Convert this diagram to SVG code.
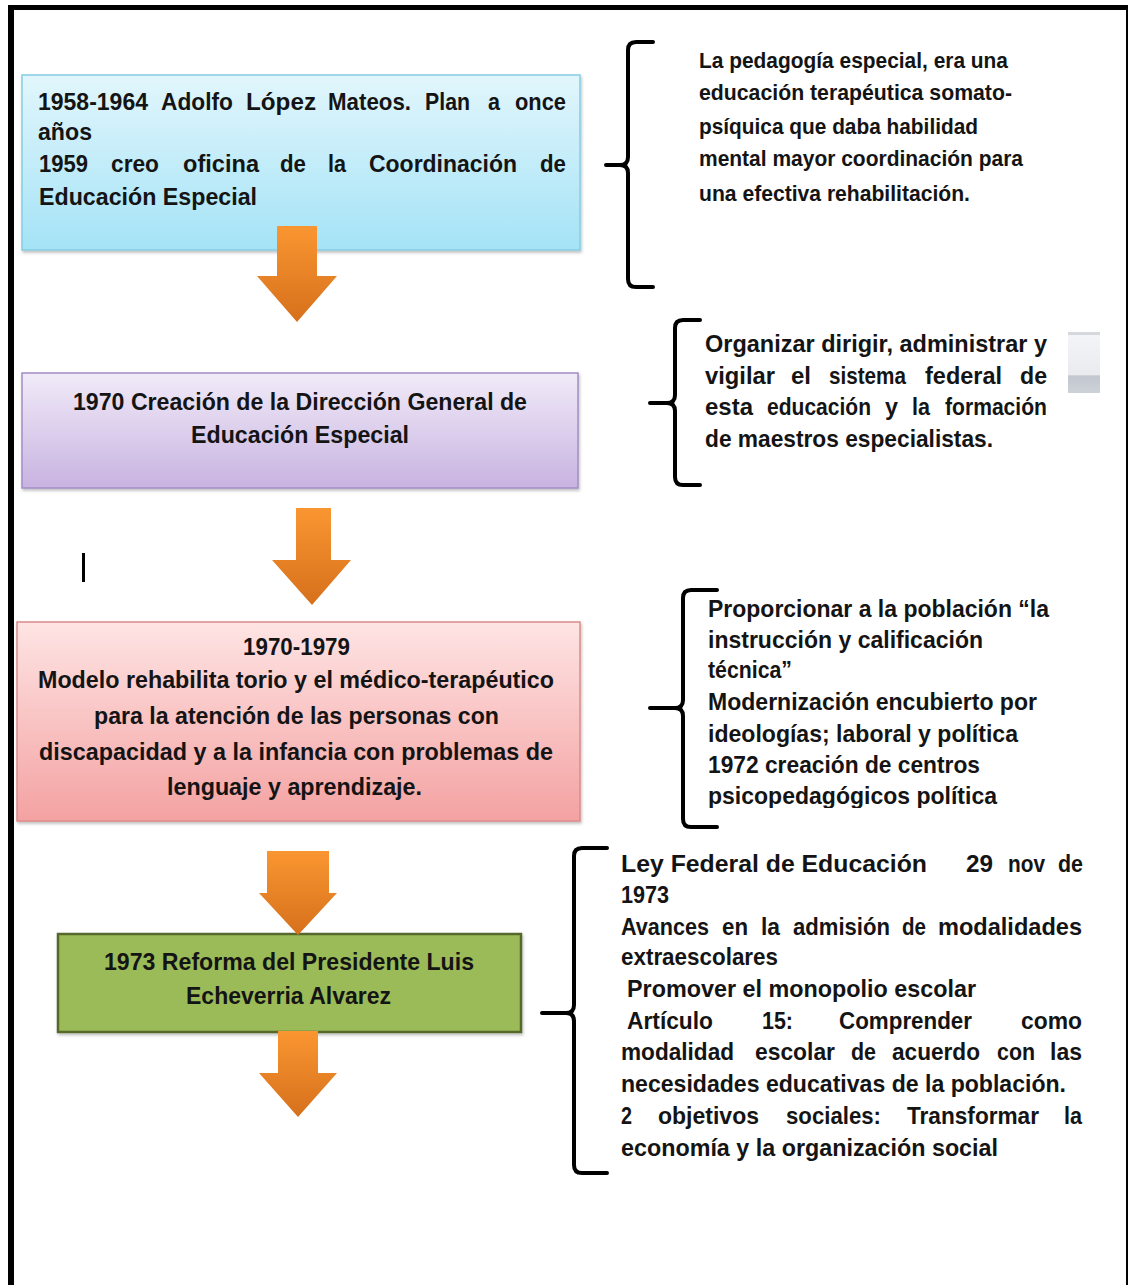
<svg xmlns="http://www.w3.org/2000/svg" width="1128" height="1285" viewBox="0 0 1128 1285">
<defs>
  <linearGradient id="gBlue" x1="0" y1="0" x2="0" y2="1"><stop offset="0" stop-color="#e2f6fc"/><stop offset="1" stop-color="#a4e3f6"/></linearGradient>
  <linearGradient id="gPurple" x1="0" y1="0" x2="0" y2="1"><stop offset="0" stop-color="#f1ebf8"/><stop offset="1" stop-color="#c8b3e1"/></linearGradient>
  <linearGradient id="gPink" x1="0" y1="0" x2="0" y2="1"><stop offset="0" stop-color="#fee4e4"/><stop offset="1" stop-color="#f4a2a2"/></linearGradient>
  <linearGradient id="gOrange" x1="0" y1="0" x2="0" y2="1"><stop offset="0" stop-color="#fa9631"/><stop offset="1" stop-color="#d6701c"/></linearGradient>
  <linearGradient id="gGray" x1="0" y1="0" x2="0" y2="1"><stop offset="0" stop-color="#f4f5f8"/><stop offset="0.7" stop-color="#e9ebef"/><stop offset="0.72" stop-color="#c3c7cf"/><stop offset="1" stop-color="#cdd1d8"/></linearGradient>
  <filter id="sh" x="-5%" y="-10%" width="110%" height="125%"><feDropShadow dx="1" dy="2" stdDeviation="1.5" flood-color="#000" flood-opacity="0.25"/></filter>
  <clipPath id="clip3"><rect x="690" y="588" width="400" height="220"/></clipPath>
</defs>
<style>
  .t{font-family:"Liberation Sans",Arial,"DejaVu Sans",sans-serif;font-weight:bold;fill:#141414;font-size:24px}
  .s22{font-size:22px}
  .br{fill:none;stroke:#000;stroke-width:4;stroke-linecap:round;stroke-linejoin:round}
  .arrow{fill:url(#gOrange)}
  .frame{fill:#000}
</style>
<rect x="0" y="0" width="1128" height="1285" fill="#fff"/>

<g id="frame">
  <rect class="frame" x="8" y="5" width="1120" height="5"/>
  <rect class="frame" x="8" y="5" width="6" height="1280"/>
  <rect class="frame" x="1126" y="5" width="2" height="1280"/>
</g>

<g id="node1">
  <rect x="22" y="75" width="558" height="175" fill="url(#gBlue)" stroke="#86cde3" stroke-width="1.5" filter="url(#sh)"/>
  <text class="t" y="110"><tspan x="38" textLength="110" lengthAdjust="spacingAndGlyphs">1958-1964</tspan> <tspan x="161" textLength="72" lengthAdjust="spacingAndGlyphs">Adolfo</tspan> <tspan x="246" textLength="70" lengthAdjust="spacingAndGlyphs">López</tspan> <tspan x="328" textLength="83" lengthAdjust="spacingAndGlyphs">Mateos.</tspan> <tspan x="425" textLength="45" lengthAdjust="spacingAndGlyphs">Plan</tspan> <tspan x="488" textLength="12" lengthAdjust="spacingAndGlyphs">a</tspan> <tspan x="515" textLength="51" lengthAdjust="spacingAndGlyphs">once</tspan></text>
  <text class="t" x="38" y="140" textLength="54" lengthAdjust="spacingAndGlyphs">años</text>
  <text class="t" y="172"><tspan x="39" textLength="49" lengthAdjust="spacingAndGlyphs">1959</tspan> <tspan x="111" textLength="48" lengthAdjust="spacingAndGlyphs">creo</tspan> <tspan x="183" textLength="76" lengthAdjust="spacingAndGlyphs">oficina</tspan> <tspan x="280" textLength="26" lengthAdjust="spacingAndGlyphs">de</tspan> <tspan x="328" textLength="18" lengthAdjust="spacingAndGlyphs">la</tspan> <tspan x="369" textLength="148" lengthAdjust="spacingAndGlyphs">Coordinación</tspan> <tspan x="540" textLength="26" lengthAdjust="spacingAndGlyphs">de</tspan></text>
  <text class="t" x="39" y="205" textLength="218" lengthAdjust="spacingAndGlyphs">Educación Especial</text>
</g>

<g id="note1">
  <text class="t s22" x="699" y="68" textLength="309" lengthAdjust="spacingAndGlyphs">La pedagogía especial, era una</text>
  <text class="t s22" x="699" y="100" textLength="313" lengthAdjust="spacingAndGlyphs">educación terapéutica somato-</text>
  <text class="t s22" x="699" y="134" textLength="279" lengthAdjust="spacingAndGlyphs">psíquica que daba habilidad</text>
  <text class="t s22" x="699" y="166" textLength="324" lengthAdjust="spacingAndGlyphs">mental mayor coordinación para</text>
  <text class="t s22" x="699" y="201" textLength="271" lengthAdjust="spacingAndGlyphs">una efectiva rehabilitación.</text>
</g>

<g id="node2">
  <rect x="22" y="373" width="556" height="115" fill="url(#gPurple)" stroke="#a28dc6" stroke-width="1.5" filter="url(#sh)"/>
  <text class="t" x="73" y="410" textLength="454" lengthAdjust="spacingAndGlyphs">1970 Creación de la Dirección General de</text>
  <text class="t" x="191" y="443" textLength="218" lengthAdjust="spacingAndGlyphs">Educación Especial</text>
</g>

<g id="note2">
  <text class="t" x="705" y="352" textLength="342" lengthAdjust="spacingAndGlyphs">Organizar dirigir, administrar y</text>
  <text class="t" y="384"><tspan x="705" textLength="70" lengthAdjust="spacingAndGlyphs">vigilar</tspan> <tspan x="791" textLength="20" lengthAdjust="spacingAndGlyphs">el</tspan> <tspan x="829" textLength="77" lengthAdjust="spacingAndGlyphs">sistema</tspan> <tspan x="925" textLength="77" lengthAdjust="spacingAndGlyphs">federal</tspan> <tspan x="1020" textLength="27" lengthAdjust="spacingAndGlyphs">de</tspan></text>
  <text class="t" y="415"><tspan x="705" textLength="48" lengthAdjust="spacingAndGlyphs">esta</tspan> <tspan x="767" textLength="104" lengthAdjust="spacingAndGlyphs">educación</tspan> <tspan x="885" textLength="13" lengthAdjust="spacingAndGlyphs">y</tspan> <tspan x="912" textLength="18" lengthAdjust="spacingAndGlyphs">la</tspan> <tspan x="945" textLength="102" lengthAdjust="spacingAndGlyphs">formación</tspan></text>
  <text class="t" x="705" y="447" textLength="288" lengthAdjust="spacingAndGlyphs">de maestros especialistas.</text>
</g>

<g id="widget">
  <rect x="1068" y="332" width="32" height="61" fill="url(#gGray)"/>
  <rect x="1068" y="332" width="32" height="3" fill="#d6d8dd"/>
</g>

<g id="cursor">
  <rect x="82" y="553" width="3" height="29" fill="#000"/>
</g>

<g id="node3">
  <rect x="17" y="622" width="563" height="199" fill="url(#gPink)" stroke="#dc8a8a" stroke-width="1.5" filter="url(#sh)"/>
  <text class="t" x="243" y="655" textLength="107" lengthAdjust="spacingAndGlyphs">1970-1979</text>
  <text class="t" x="38" y="688" textLength="516" lengthAdjust="spacingAndGlyphs">Modelo rehabilita torio y el médico-terapéutico</text>
  <text class="t" x="94" y="724" textLength="405" lengthAdjust="spacingAndGlyphs">para la atención de las personas con</text>
  <text class="t" x="39" y="760" textLength="514" lengthAdjust="spacingAndGlyphs">discapacidad y a la infancia con problemas de</text>
  <text class="t" x="167" y="795" textLength="255" lengthAdjust="spacingAndGlyphs">lenguaje y aprendizaje.</text>
</g>

<g id="note3" clip-path="url(#clip3)">
  <text class="t" x="708" y="617" textLength="341" lengthAdjust="spacingAndGlyphs">Proporcionar a la población “la</text>
  <text class="t" x="708" y="648" textLength="275" lengthAdjust="spacingAndGlyphs">instrucción y calificación</text>
  <text class="t" x="708" y="678" textLength="84" lengthAdjust="spacingAndGlyphs">técnica”</text>
  <text class="t" x="708" y="710" textLength="329" lengthAdjust="spacingAndGlyphs">Modernización encubierto por</text>
  <text class="t" x="708" y="742" textLength="310" lengthAdjust="spacingAndGlyphs">ideologías; laboral y política</text>
  <text class="t" x="708" y="773" textLength="272" lengthAdjust="spacingAndGlyphs">1972 creación de centros</text>
  <text class="t" x="708" y="804" textLength="289" lengthAdjust="spacingAndGlyphs">psicopedagógicos política</text>
</g>

<g id="node4">
  <rect x="58" y="934" width="463" height="98" fill="#9bbb59" stroke="#56692c" stroke-width="2.5" filter="url(#sh)"/>
  <text class="t" x="104" y="970" textLength="370" lengthAdjust="spacingAndGlyphs">1973 Reforma del Presidente Luis</text>
  <text class="t" x="186" y="1004" textLength="205" lengthAdjust="spacingAndGlyphs">Echeverria Alvarez</text>
</g>

<g id="note4">
  <text class="t" y="872"><tspan x="621" textLength="306" lengthAdjust="spacingAndGlyphs">Ley Federal de Educación</tspan> <tspan x="966" textLength="27" lengthAdjust="spacingAndGlyphs">29</tspan> <tspan x="1008" textLength="37" lengthAdjust="spacingAndGlyphs">nov</tspan> <tspan x="1058" textLength="25" lengthAdjust="spacingAndGlyphs">de</tspan></text>
  <text class="t" x="621" y="903" textLength="48" lengthAdjust="spacingAndGlyphs">1973</text>
  <text class="t" y="935"><tspan x="621" textLength="88" lengthAdjust="spacingAndGlyphs">Avances</tspan> <tspan x="722" textLength="26" lengthAdjust="spacingAndGlyphs">en</tspan> <tspan x="761" textLength="19" lengthAdjust="spacingAndGlyphs">la</tspan> <tspan x="793" textLength="97" lengthAdjust="spacingAndGlyphs">admisión</tspan> <tspan x="902" textLength="24" lengthAdjust="spacingAndGlyphs">de</tspan> <tspan x="938" textLength="144" lengthAdjust="spacingAndGlyphs">modalidades</tspan></text>
  <text class="t" x="621" y="965" textLength="157" lengthAdjust="spacingAndGlyphs">extraescolares</text>
  <text class="t" x="627" y="997" textLength="349" lengthAdjust="spacingAndGlyphs">Promover el monopolio escolar</text>
  <text class="t" y="1029"><tspan x="627" textLength="86" lengthAdjust="spacingAndGlyphs">Artículo</tspan> <tspan x="762" textLength="31" lengthAdjust="spacingAndGlyphs">15:</tspan> <tspan x="839" textLength="133" lengthAdjust="spacingAndGlyphs">Comprender</tspan> <tspan x="1021" textLength="61" lengthAdjust="spacingAndGlyphs">como</tspan></text>
  <text class="t" y="1060"><tspan x="621" textLength="113" lengthAdjust="spacingAndGlyphs">modalidad</tspan> <tspan x="755" textLength="80" lengthAdjust="spacingAndGlyphs">escolar</tspan> <tspan x="851" textLength="25" lengthAdjust="spacingAndGlyphs">de</tspan> <tspan x="892" textLength="88" lengthAdjust="spacingAndGlyphs">acuerdo</tspan> <tspan x="997" textLength="38" lengthAdjust="spacingAndGlyphs">con</tspan> <tspan x="1050" textLength="32" lengthAdjust="spacingAndGlyphs">las</tspan></text>
  <text class="t" x="621" y="1092" textLength="445" lengthAdjust="spacingAndGlyphs">necesidades educativas de la población.</text>
  <text class="t" y="1124"><tspan x="621" textLength="11" lengthAdjust="spacingAndGlyphs">2</tspan> <tspan x="658" textLength="101" lengthAdjust="spacingAndGlyphs">objetivos</tspan> <tspan x="786" textLength="95" lengthAdjust="spacingAndGlyphs">sociales:</tspan> <tspan x="907" textLength="132" lengthAdjust="spacingAndGlyphs">Transformar</tspan> <tspan x="1064" textLength="18" lengthAdjust="spacingAndGlyphs">la</tspan></text>
  <text class="t" x="621" y="1156" textLength="377" lengthAdjust="spacingAndGlyphs">economía y la organización social</text>
</g>

<g id="connectors">
  <path id="arrow1" class="arrow" d="M277,226 H317 V276 H337 L297,322 L257,276 H277 Z"/>
  <path id="arrow2" class="arrow" d="M296,508 H331 V560 H351 L312,605 L272,560 H296 Z"/>
  <path id="arrow3" class="arrow" d="M267,851 H329 V893 H337 L298,935 L259,893 H267 Z"/>
  <path id="arrow4" class="arrow" d="M278,1031 H318 V1073 H337 L298,1117 L259,1073 H278 Z"/>
  <path id="brace1" class="br" d="M653,42 H636 Q628,42 628,50 V157 Q628,165 620,165 H606 M620,165 Q628,165 628,173 V279 Q628,287 636,287 H653"/>
  <path id="brace2" class="br" d="M700,320 H683 Q675,320 675,328 V395 Q675,403 667,403 H650 M667,403 Q675,403 675,411 V477 Q675,485 683,485 H700"/>
  <path id="brace3" class="br" d="M717,590 H691 Q683,590 683,598 V700 Q683,708 675,708 H650 M675,708 Q683,708 683,716 V819 Q683,827 691,827 H717"/>
  <path id="brace4" class="br" d="M607,848 H582 Q574,848 574,856 V1005 Q574,1013 566,1013 H542 M566,1013 Q574,1013 574,1021 V1165 Q574,1173 582,1173 H607"/>
</g>
</svg>
